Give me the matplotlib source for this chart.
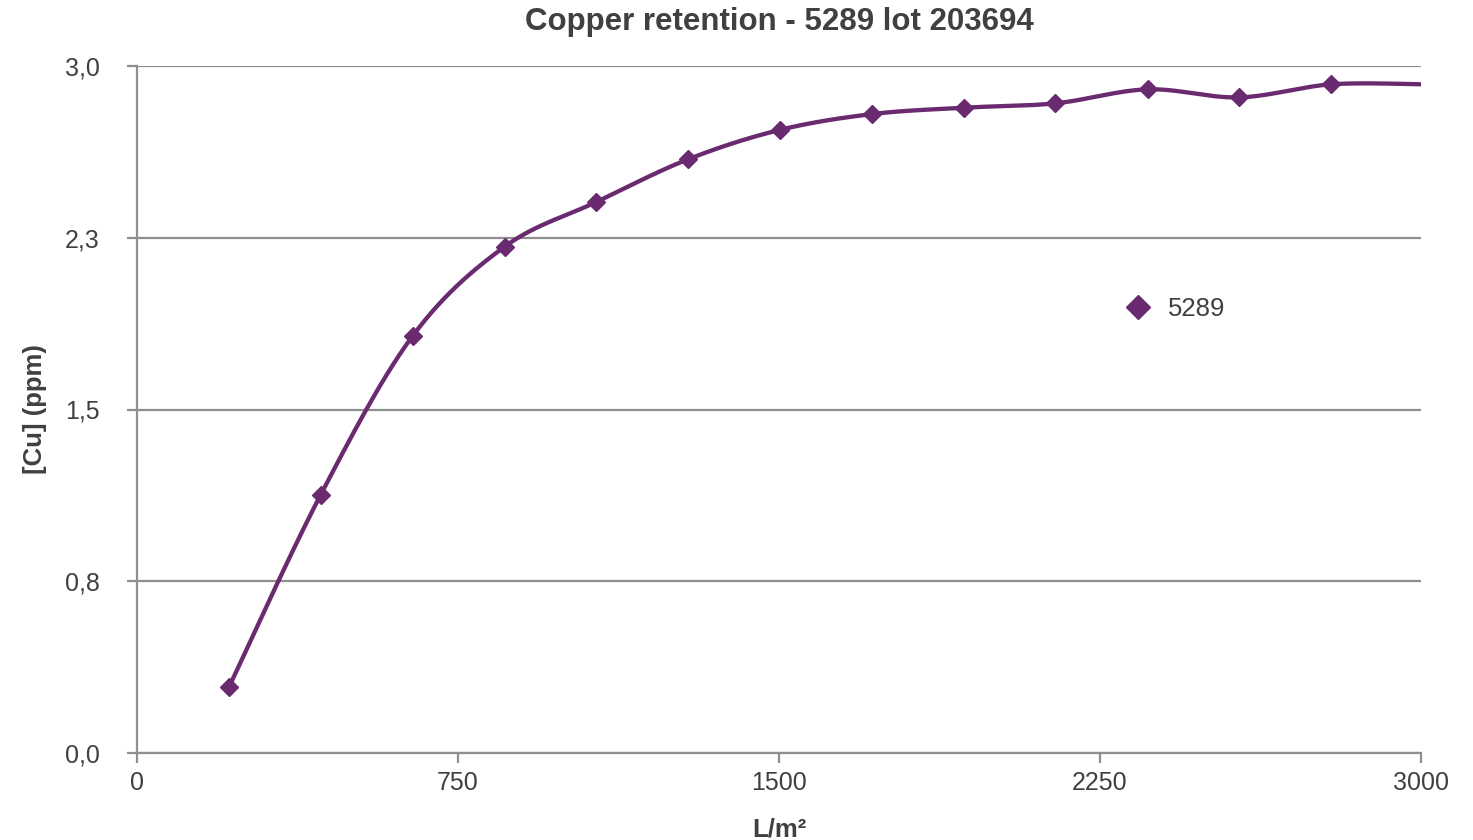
import numpy as np
import matplotlib
matplotlib.use("Agg")
import matplotlib.pyplot as plt
from matplotlib.lines import Line2D

plt.rcParams['font.family'] = ['Liberation Sans', 'DejaVu Sans']

# Data
volume = [215, 429, 644, 859, 1073, 1288, 1502, 1717, 1932, 2146, 2361, 2575, 2790, 3005]
copper = [0.288, 1.127, 1.821, 2.211, 2.406, 2.593, 2.721, 2.790, 2.818, 2.837, 2.898, 2.863, 2.920, 2.920]
series_name = "5289"
title = "Copper retention - 5289 lot 203694"
x_ticks = [0, 750, 1500, 2250, 3000]
y_ticks = [0.0, 0.75, 1.5, 2.25, 3.0]
y_tick_labels = ["0,0", "0,8", "1,5", "2,3", "3,0"]

PURPLE = "#6a2a70"
GRID = "#8f8f8f"
TXT = "#404040"
XMAX = 3000


def catmull_rom(xs, ys, n=30):
    p = np.column_stack([xs, ys]).astype(float)
    p = np.vstack([p[0], p, p[-1]])
    out = []
    for i in range(1, len(p) - 2):
        p0, p1, p2, p3 = p[i - 1], p[i], p[i + 1], p[i + 2]
        c1 = p1 + (p2 - p0) / 6.0
        c2 = p2 - (p3 - p1) / 6.0
        t = np.linspace(0, 1, n)[:, None]
        seg = ((1 - t) ** 3) * p1 + 3 * ((1 - t) ** 2) * t * c1 + 3 * (1 - t) * t ** 2 * c2 + t ** 3 * p2
        out.append(seg if i == 1 else seg[1:])
    s = np.vstack(out)
    return s[:, 0], s[:, 1]


fig = plt.figure(figsize=(14.73, 8.40), dpi=100)
ax = fig.add_axes([137 / 1473, 1 - 753 / 840, (1421 - 137) / 1473, (753 - 66) / 840])

sx, sy = catmull_rom(volume, copper)
ax.plot(sx, sy, color=PURPLE, lw=3.1, solid_capstyle='butt', zorder=3)
vis = [(v, c) for v, c in zip(volume, copper) if v <= XMAX]
ax.plot([v for v, _ in vis], [c for _, c in vis], linestyle='none', marker='D', markersize=9.5,
        color=PURPLE, markeredgecolor=PURPLE, zorder=4)

ax.set_xlim(0, XMAX)
ax.set_ylim(0, 3.0)
ax.set_xticks(x_ticks)
ax.set_xticklabels([str(v) for v in x_ticks])
ax.set_yticks(y_ticks)
ax.set_yticklabels(y_tick_labels)

ax.grid(axis='y', color=GRID, lw=1.6)
ax.set_axisbelow(True)
for s in ['top', 'right']:
    ax.spines[s].set_visible(False)
for s in ['left', 'bottom']:
    ax.spines[s].set_color(GRID)
    ax.spines[s].set_linewidth(1.6)

ax.tick_params(axis='both', colors=GRID, length=7, width=1.6, labelsize=18, labelcolor=TXT)
ax.tick_params(axis='x', pad=6)
ax.tick_params(axis='y', pad=20)

fig.text(779 / 1473, 1 - 22 / 840, title, fontsize=22.5, fontweight='bold', color=TXT,
         ha='center', va='center')
ax.set_xlabel("L/m²", fontsize=18.5, fontweight='bold', color=TXT, labelpad=16)
ax.set_ylabel("[Cu] (ppm)", fontsize=18.5, fontweight='bold', color=TXT, labelpad=13)

handle = Line2D([], [], linestyle='none', marker='D', markersize=12.5, color=PURPLE)
ax.legend([handle], [series_name], loc='center left', frameon=False,
          bbox_to_anchor=(1099 / 1473, 1 - 309 / 840), bbox_transform=fig.transFigure,
          fontsize=18.5, labelcolor=TXT, handlelength=1.2, handletextpad=0.6)

fig.savefig("out.png", dpi=100)
